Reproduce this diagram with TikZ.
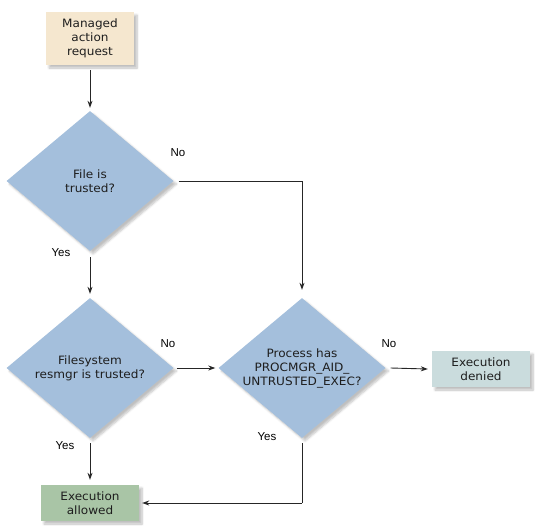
\documentclass[tikz,border=0pt]{standalone}
\usepackage{fontspec}
\setmainfont{DejaVu Sans}[FakeStretch=1.05]
\newfontfamily\lblfont{Liberation Sans}
\usetikzlibrary{shapes.geometric,arrows.meta,shadows.blur}
\definecolor{reqfill}{HTML}{F5E7CF}
\definecolor{decfill}{HTML}{A4BFDC}
\definecolor{denyfill}{HTML}{CADCDD}
\definecolor{allowfill}{HTML}{A9C5A6}
\definecolor{txt}{HTML}{1E1E1E}
\tikzset{
  box/.style={rectangle, inner sep=0pt, text=txt, align=center, font=\fontsize{11.5}{14}\selectfont,
    blur shadow={shadow xshift=3pt, shadow yshift=-3pt, shadow blur steps=6, shadow opacity=25}},
  dec/.style={diamond, draw=none, fill=decfill, inner sep=0pt, minimum width=167pt, minimum height=140pt,
    blur shadow={shadow xshift=3pt, shadow yshift=-3pt, shadow blur steps=6, shadow opacity=25}},
  dectext/.style={text=txt, align=center, font=\fontsize{11.5}{14}\selectfont},
  lbl/.style={text=black, font=\lblfont\fontsize{11.5}{13}\selectfont},
  conn/.style={draw=black!85, line width=0.9pt, -{Stealth[length=7pt,width=5pt]}},
  plain/.style={draw=black!85, line width=0.9pt}
}
\begin{document}
\begin{tikzpicture}[x=1pt,y=-1pt]
\useasboundingbox (0,0) rectangle (539,531);
\node[box, fill=reqfill, minimum width=88pt, minimum height=53pt] (req) at (90,38.5) {Managed\\action\\request};
\node[dec] (d1) at (90,181) {};
\node[dectext] (t1) at (90,181) {File is\\trusted?};
\node[dec] (d2) at (90,368) {};
\node[dectext] (t2) at (90,368) {Filesystem\\resmgr is trusted?};
\node[dec] (d3) at (302,368) {};
\node[dectext] (t3) at (302,368) {Process has\\PROCMGR\_AID\_\\UNTRUSTED\_EXEC?};
\node[box, fill=denyfill, minimum width=98pt, minimum height=36pt] (deny) at (481,369) {Execution\\denied};
\node[box, fill=allowfill, minimum width=98pt, minimum height=36pt] (allow) at (90,503) {Execution\\allowed};

\coordinate (c1) at (302,181);
\coordinate (c2) at (302,503);

\draw[conn] ([yshift=-5pt]req.south) -- ([yshift=3pt]d1.north);
\draw[plain] ([xshift=5pt]d1.east) -- (c1);
\draw[conn] (c1) -- ([yshift=8pt]d3.north);
\draw[conn] ([yshift=-6pt]d1.south) -- ([yshift=4pt]d2.north);
\draw[conn] ([xshift=3pt]d2.east) -- ([xshift=-3pt]d3.west);
\draw[conn] ([xshift=5pt]d3.east) -- ([xshift=-4pt]deny.west);
\draw[conn] ([yshift=-5pt]d2.south) -- ([yshift=5pt]allow.north);
\draw[plain] ([yshift=-5pt]d3.south) -- (c2);
\draw[conn] (c2) -- ([xshift=3pt]allow.east);

\node[lbl] (n1) at (178,153) {No};
\node[lbl] (y1) at (61,253) {Yes};
\node[lbl] (n2) at (168,344) {No};
\node[lbl] (y2) at (65,446) {Yes};
\node[lbl] (n3) at (389,344) {No};
\node[lbl] (y3) at (267,437) {Yes};
\end{tikzpicture}
\end{document}
